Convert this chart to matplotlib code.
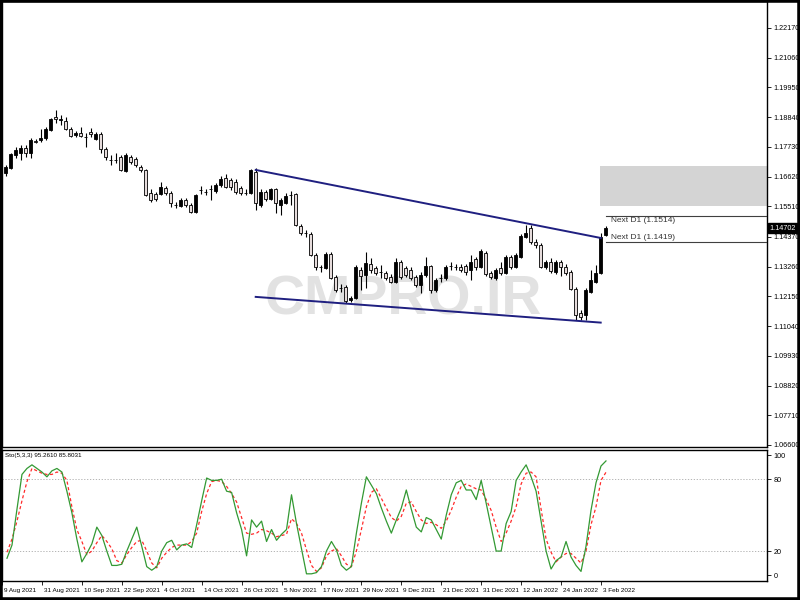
import matplotlib
matplotlib.use("Agg")
import matplotlib.pyplot as plt
import numpy as np
from matplotlib.patches import Rectangle
import matplotlib.transforms as mtransforms

# ---------------- data (EURUSD daily, 20 Aug 2021 .. 4 Feb 2022) ----------------
opens = [1.1675, 1.1694, 1.1743, 1.1750, 1.1769, 1.1750, 1.1795, 1.1799, 1.1806, 1.1836,
         1.1883, 1.1875, 1.1870, 1.1840, 1.1817, 1.1825, 1.1811, 1.1829, 1.1802, 1.1821,
         1.1765, 1.1725, 1.1723, 1.1735, 1.1683, 1.1735, 1.1728, 1.1698, 1.1687, 1.1601,
         1.1597, 1.1597, 1.1620, 1.1601, 1.1557, 1.1552, 1.1575, 1.1556, 1.1530, 1.1611,
         1.1606, 1.1615, 1.1608, 1.1631, 1.1657, 1.1649, 1.1642, 1.1620, 1.1602, 1.1601,
         1.1679, 1.1556, 1.1605, 1.1579, 1.1616, 1.1556, 1.1564, 1.1592, 1.1597, 1.1477,
         1.1452, 1.1448, 1.1369, 1.1326, 1.1321, 1.1373, 1.1287, 1.1247, 1.1250, 1.1201,
         1.1209, 1.1313, 1.1295, 1.1336, 1.1321, 1.1307, 1.1302, 1.1287, 1.1269, 1.1343,
         1.1321, 1.1313, 1.1287, 1.1257, 1.1295, 1.1328, 1.1239, 1.1282, 1.1283, 1.1327,
         1.1326, 1.1325, 1.1328, 1.1313, 1.1354, 1.1325, 1.1377, 1.1302, 1.1283, 1.1321,
         1.1302, 1.1362, 1.1325, 1.1362, 1.1437, 1.1470, 1.1418, 1.1407, 1.1325, 1.1343,
         1.1306, 1.1343, 1.1325, 1.1306, 1.1243, 1.1153, 1.1145, 1.1231, 1.1269, 1.1302,
         1.1444]
highs = [1.1705, 1.1750, 1.1773, 1.1780, 1.1780, 1.1806, 1.1802, 1.1840, 1.1847, 1.1881,
         1.1911, 1.1892, 1.1885, 1.1847, 1.1832, 1.1847, 1.1825, 1.1844, 1.1829, 1.1829,
         1.1773, 1.1743, 1.1750, 1.1743, 1.1750, 1.1743, 1.1735, 1.1705, 1.1690, 1.1616,
         1.1605, 1.1642, 1.1627, 1.1608, 1.1567, 1.1582, 1.1582, 1.1564, 1.1597, 1.1627,
         1.1616, 1.1631, 1.1638, 1.1664, 1.1672, 1.1657, 1.1653, 1.1627, 1.1616, 1.1690,
         1.1694, 1.1616, 1.1612, 1.1620, 1.1620, 1.1582, 1.1601, 1.1608, 1.1601, 1.1485,
         1.1463, 1.1455, 1.1377, 1.1332, 1.1381, 1.1381, 1.1295, 1.1261, 1.1257, 1.1216,
         1.1332, 1.1325, 1.1381, 1.1358, 1.1328, 1.1332, 1.1310, 1.1298, 1.1358, 1.1351,
         1.1328, 1.1325, 1.1295, 1.1306, 1.1362, 1.1332, 1.1283, 1.1298, 1.1332, 1.1343,
         1.1336, 1.1336, 1.1336, 1.1369, 1.1362, 1.1392, 1.1384, 1.1310, 1.1321, 1.1343,
         1.1369, 1.1369, 1.1377, 1.1448, 1.1481, 1.1481, 1.1429, 1.1414, 1.1351, 1.1358,
         1.1351, 1.1351, 1.1336, 1.1313, 1.1250, 1.1164, 1.1246, 1.1313, 1.1332, 1.1451,
         1.1477]
lows = [1.1664, 1.1690, 1.1732, 1.1724, 1.1735, 1.1732, 1.1788, 1.1791, 1.1799, 1.1832,
        1.1862, 1.1855, 1.1836, 1.1810, 1.1810, 1.1810, 1.1773, 1.1810, 1.1799, 1.1750,
        1.1724, 1.1705, 1.1713, 1.1683, 1.1679, 1.1709, 1.1698, 1.1679, 1.1590, 1.1567,
        1.1571, 1.1593, 1.1593, 1.1549, 1.1545, 1.1549, 1.1549, 1.1526, 1.1526, 1.1597,
        1.1593, 1.1575, 1.1601, 1.1623, 1.1620, 1.1612, 1.1597, 1.1593, 1.1593, 1.1597,
        1.1537, 1.1549, 1.1571, 1.1575, 1.1526, 1.1519, 1.1560, 1.1556, 1.1477, 1.1444,
        1.1437, 1.1366, 1.1313, 1.1306, 1.1317, 1.1280, 1.1231, 1.1231, 1.1190, 1.1194,
        1.1205, 1.1239, 1.1246, 1.1302, 1.1295, 1.1283, 1.1276, 1.1265, 1.1265, 1.1280,
        1.1287, 1.1276, 1.1250, 1.1228, 1.1287, 1.1228, 1.1231, 1.1269, 1.1276, 1.1313,
        1.1313, 1.1306, 1.1295, 1.1276, 1.1313, 1.1321, 1.1291, 1.1280, 1.1276, 1.1295,
        1.1298, 1.1317, 1.1321, 1.1358, 1.1433, 1.1410, 1.1396, 1.1321, 1.1317, 1.1302,
        1.1298, 1.1291, 1.1295, 1.1239, 1.1127, 1.1127, 1.1127, 1.1228, 1.1265, 1.1298,
        1.1440]
closes = [1.1698, 1.1746, 1.1761, 1.1769, 1.1750, 1.1799, 1.1791, 1.1806, 1.1840, 1.1877,
          1.1879, 1.1879, 1.1840, 1.1814, 1.1825, 1.1814, 1.1809, 1.1821, 1.1821, 1.1765,
          1.1735, 1.1723, 1.1725, 1.1687, 1.1743, 1.1717, 1.1705, 1.1687, 1.1593, 1.1575,
          1.1579, 1.1623, 1.1601, 1.1564, 1.1555, 1.1575, 1.1556, 1.1530, 1.1593, 1.1613,
          1.1604, 1.1617, 1.1631, 1.1653, 1.1623, 1.1623, 1.1605, 1.1601, 1.1600, 1.1687,
          1.1564, 1.1605, 1.1579, 1.1616, 1.1564, 1.1575, 1.1590, 1.1594, 1.1481, 1.1451,
          1.1450, 1.1369, 1.1325, 1.1324, 1.1373, 1.1283, 1.1239, 1.1245, 1.1198, 1.1209,
          1.1325, 1.1291, 1.1340, 1.1313, 1.1302, 1.1305, 1.1283, 1.1269, 1.1343, 1.1287,
          1.1295, 1.1283, 1.1257, 1.1295, 1.1328, 1.1239, 1.1276, 1.1284, 1.1325, 1.1329,
          1.1324, 1.1313, 1.1306, 1.1343, 1.1325, 1.1384, 1.1298, 1.1287, 1.1313, 1.1302,
          1.1362, 1.1325, 1.1369, 1.1440, 1.1451, 1.1418, 1.1407, 1.1325, 1.1343, 1.1310,
          1.1343, 1.1325, 1.1302, 1.1243, 1.1145, 1.1138, 1.1239, 1.1276, 1.1302, 1.1437,
          1.1470]

stoch_main = [14, 25, 55, 84, 89, 92, 89, 86, 82, 87,
              89, 86, 70, 52, 30, 11, 18, 26, 40, 33,
              20, 8, 8, 9, 20, 30, 40, 24, 7, 4,
              7, 20, 27, 29, 21, 25, 26, 23, 42, 62,
              81, 79, 79, 80, 70, 69, 52, 38, 16, 46,
              40, 45, 28, 38, 29, 34, 38, 67, 43, 22,
              1, 1, 2, 7, 20, 28, 21, 8, 4, 7,
              35, 60, 82, 75, 68, 56, 45, 35, 46, 56,
              71, 55, 40, 36, 48, 46, 38, 30, 50, 67,
              77, 79, 71, 71, 63, 79, 60, 40, 20, 20,
              43, 53, 79, 86, 92, 82, 70, 45, 20, 5,
              12, 15, 28, 15, 8, 3, 24, 54, 77, 91,
              95.261]
stoch_signal = [19, 30, 45, 62, 78, 89, 87, 85, 84, 84,
                86, 85, 79, 57, 38, 28, 17, 20, 27, 33,
                28, 22, 12, 10, 17, 23, 28, 29, 20, 10,
                6, 14, 19, 23, 25, 25, 25, 28, 35, 53,
                68, 78, 79, 78, 74, 68, 61, 48, 35, 34,
                35, 38, 37, 35, 32, 33, 34, 47, 43, 35,
                21, 8, 3, 6, 16, 20, 22, 16, 9, 7,
                20, 38, 57, 69, 72, 64, 56, 48, 45, 49,
                60, 61, 53, 46, 43, 44, 42, 39, 45, 54,
                65, 74, 76, 74, 72, 71, 63, 54, 40, 28,
                35, 45, 57, 76, 85, 86, 82, 55, 30, 19,
                11, 15, 18, 18, 14, 10, 20, 42, 57, 79,
                85.8031]

price_ticks = [1.22170, 1.21060, 1.19950, 1.18840, 1.17730, 1.16620, 1.15510,
               1.14370, 1.13260, 1.12150, 1.11040, 1.09930, 1.08820, 1.07710, 1.06600]
stoch_ticks = [100, 80, 20, 0]
date_labels = ["9 Aug 2021", "31 Aug 2021", "10 Sep 2021", "22 Sep 2021", "4 Oct 2021",
               "14 Oct 2021", "26 Oct 2021", "5 Nov 2021", "17 Nov 2021", "29 Nov 2021",
               "9 Dec 2021", "21 Dec 2021", "31 Dec 2021", "12 Jan 2022", "24 Jan 2022",
               "3 Feb 2022"]
date_tick_index = [-1, 7, 15, 23, 31, 39, 47, 55, 63, 71, 79, 87, 95, 103, 111, 119]

upper_line_x = [50, 119]
upper_line_y = [1.1687, 1.1433]
lower_line_x = [50, 119]
lower_line_y = [1.1213, 1.1117]
zone_x0 = 118.9
zone_low, zone_high = 1.1552, 1.1700
next_d1_levels = [1.1514, 1.1419]
last_price = 1.14702
stoch_levels = [80, 20]

# ---------------- figure ----------------
small_font = ['Liberation Sans', 'DejaVu Sans']
fig = plt.figure(figsize=(8, 6), dpi=100)
fig.patch.set_facecolor('white')
ax = fig.add_axes([2 / 800, 153 / 600, 765 / 800, 446 / 600])
ax2 = fig.add_axes([2 / 800, 19 / 600, 765 / 800, 131 / 600])

xmin, xmax = -0.74, 152.26
ax.set_xlim(xmin, xmax)
ax2.set_xlim(xmin, xmax)
ax.set_ylim(1.06525, 1.23178)
ax2.set_ylim(-5.0, 104.4)

o = np.array(opens); h = np.array(highs); l = np.array(lows); c = np.array(closes)
idx = np.arange(len(o))
up = c >= o

# watermark
ax.text(79.5, 1.1201, "CMPRO.IR", fontsize=40, fontweight='bold', color='#e2e2e2',
        ha='center', va='center', family=small_font, zorder=1)

# zone
ax.add_patch(Rectangle((zone_x0, zone_low), xmax - zone_x0, zone_high - zone_low,
                       facecolor='#d4d4d4', edgecolor='none', zorder=1))

# candles
ax.vlines(idx, l, h, color='black', lw=0.8, zorder=3)
bb = np.minimum(o, c)
bh = np.maximum(np.abs(c - o), 0.00012)
ax.bar(idx[up], bh[up], bottom=bb[up], width=0.62, color='black', edgecolor='black',
       linewidth=0.6, zorder=4)
ax.bar(idx[~up], bh[~up], bottom=bb[~up], width=0.62, color='#e6dcdc', edgecolor='black',
       linewidth=0.6, zorder=4)

# trend lines
ax.plot(upper_line_x, upper_line_y, color='#1f1f80', lw=1.4, zorder=5)
ax.plot(lower_line_x, lower_line_y, color='#1f1f80', lw=1.4, zorder=5)

# next D1 lines
for lev in next_d1_levels:
    ax.plot([120, xmax], [lev, lev], color='#404040', lw=0.8, zorder=5)
ax.text(121.0, next_d1_levels[0] - 0.0003, "Next D1 (1.1514)", fontsize=6.0, color='#333333',
        va='top', ha='left', family=small_font, zorder=6)
ax.text(121.0, next_d1_levels[1] + 0.0002, "Next D1 (1.1419)", fontsize=6.0, color='#333333',
        va='bottom', ha='left', family=small_font, zorder=6)

# price axis
ax.yaxis.tick_right()
ax.set_yticks(price_ticks)
ax.set_yticklabels([f"{v:.5f}" for v in price_ticks], family=small_font, fontsize=5.2)
ax.tick_params(axis='y', direction='out', length=3, width=0.6, pad=1.5)
ax.set_xticks([])
for s in ax.spines.values():
    s.set_linewidth(1.0)
    s.set_color('black')

trans = mtransforms.blended_transform_factory(ax.transAxes, ax.transData)
ax.text(1.003, last_price, f"{last_price:.5f}", transform=trans, fontsize=5.2, color='white',
        family=small_font, va='center', ha='left', zorder=10,
        bbox=dict(boxstyle='square,pad=0.2', facecolor='black', edgecolor='black'))

# stochastic
ax2.plot(idx, stoch_main, color='#339933', lw=0.9, zorder=4)
ax2.plot(idx, stoch_signal, color='#ff2a2a', lw=0.9, linestyle=(0, (2.5, 2)), zorder=3)
for lev in stoch_levels:
    ax2.axhline(lev, color='#a8a8a8', lw=0.6, linestyle=(0, (1.5, 2)), zorder=1)
ax2.yaxis.tick_right()
ax2.set_yticks(stoch_ticks)
ax2.set_yticklabels([str(v) for v in stoch_ticks], family=small_font, fontsize=5.2)
ax2.tick_params(axis='y', direction='out', length=3, width=0.6, pad=1.5)
ax2.set_xticks(date_tick_index)
ax2.set_xticklabels(date_labels, family=small_font, fontsize=4.6, ha='left')
ax2.tick_params(axis='x', direction='out', length=3, width=0.6, pad=2)
shift = mtransforms.ScaledTranslation(2 / 100, 0, fig.dpi_scale_trans)
for lbl in ax2.get_xticklabels():
    lbl.set_transform(lbl.get_transform() + shift)
for s in ax2.spines.values():
    s.set_linewidth(1.0)
    s.set_color('black')
ax2.text(0.004, 0.975, "Sto(5,3,3) 95.2610 85.8031", transform=ax2.transAxes, fontsize=4.5,
         family=small_font, va='top', ha='left', color='black')

# outer frame
fig.patches.append(Rectangle((0, 0), 1, 1, transform=fig.transFigure, fill=False,
                             edgecolor='black', lw=4, zorder=20))

fig.savefig("out.png", dpi=100)
